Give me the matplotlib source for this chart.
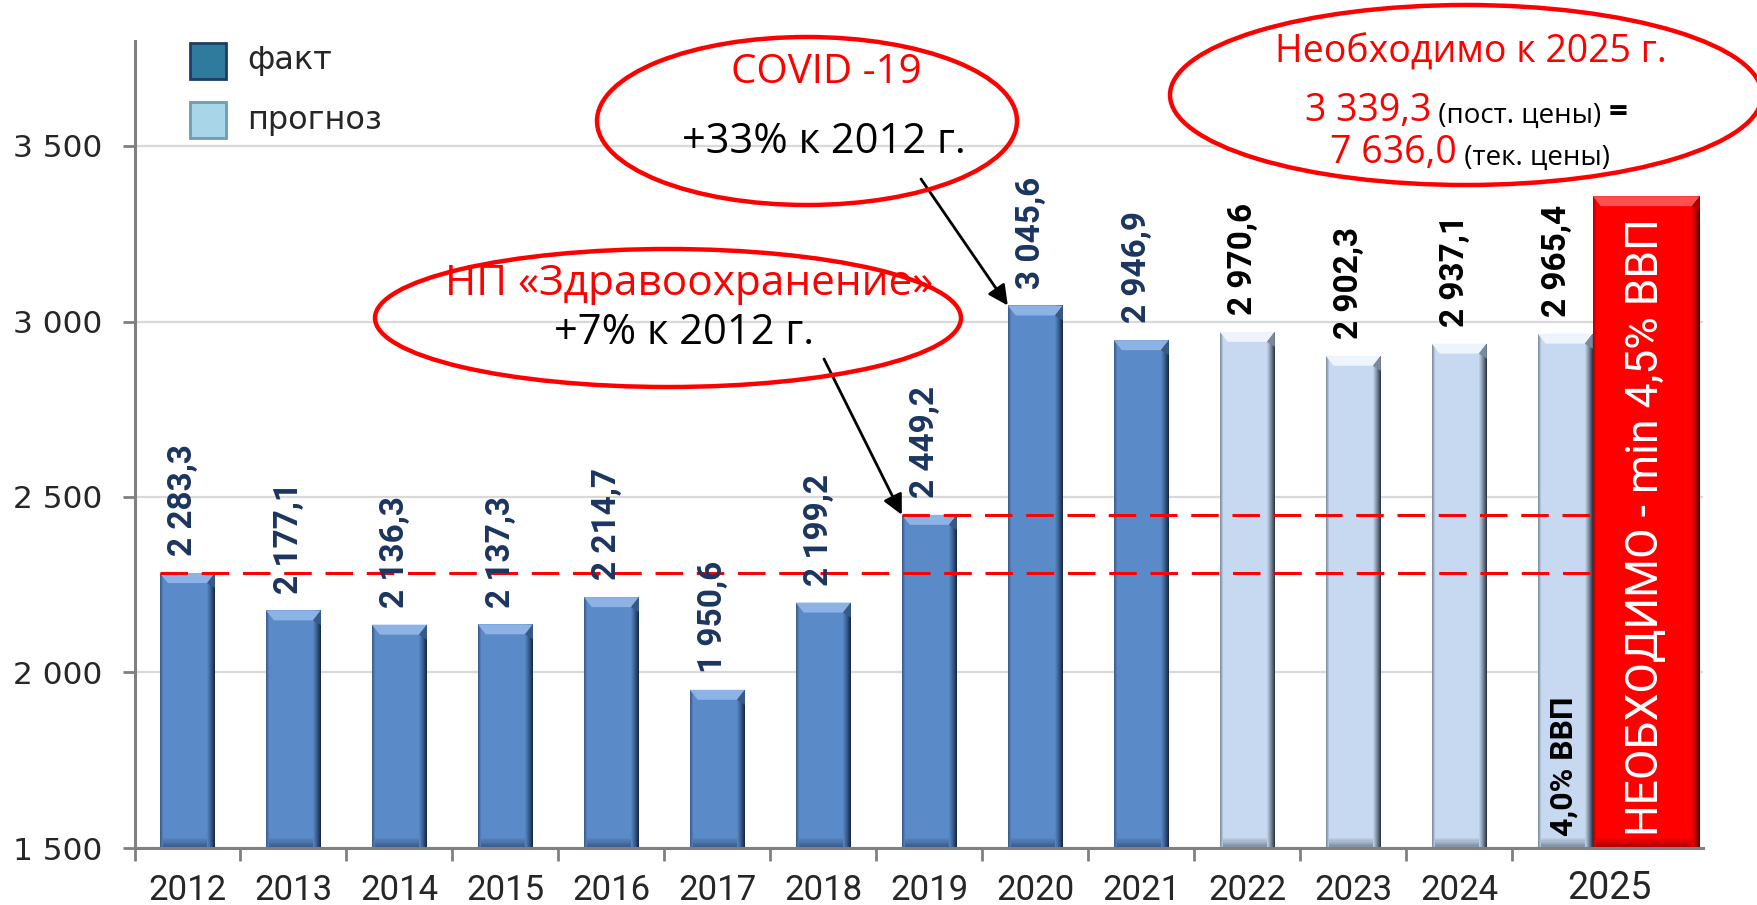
import matplotlib
matplotlib.use("Agg")
import matplotlib.pyplot as plt
from matplotlib.patches import Ellipse, Polygon, Rectangle
from matplotlib.text import Annotation
import matplotlib.colors as mcolors
import numpy as np

# ---------------- data ----------------
fact_years = ["2012", "2013", "2014", "2015", "2016", "2017", "2018", "2019", "2020", "2021"]
fact_values = [2283.3, 2177.1, 2136.3, 2137.3, 2214.7, 1950.6, 2199.2, 2449.2, 3045.6, 2946.9]
forecast_years = ["2022", "2023", "2024", "2025"]
forecast_values = [2970.6, 2902.3, 2937.1, 2965.4]
needed_value = 3357.0          # red bar as drawn
needed_text = "НЕОБХОДИМО - min 4,5% ВВП"
gdp_text = "4,0% ВВП"
y_ticks = [1500, 2000, 2500, 3000, 3500]
y_tick_labels = ["1 500", "2 000", "2 500", "3 000", "3 500"]
legend_labels = ["факт", "прогноз"]

W, H = 1757, 905
fig = plt.figure(figsize=(W / 100, H / 100), dpi=100)
ax = fig.add_axes([134.5 / W, 1 - 848 / H, (1703 - 134.5) / W, (848 - 40.7) / H])
XMIN, XMAX, YMIN, YMAX = -0.5, 14.3, 1500, 3800
ax.set_xlim(XMIN, XMAX)
ax.set_ylim(YMIN, YMAX)

px_x = (1703 - 134.5) / (XMAX - XMIN)      # pixels per x unit
px_y = (848 - 40.7) / (YMAX - YMIN)        # pixels per y unit


def fpx(x, y):
    """figure pixel (from top-left) -> figure fraction"""
    return x / W, 1 - y / H


FACT = "#5A8AC8"
FORE = "#C6D9F0"
RED = "#FF0000"
BW = 0.52

all_years = fact_years + forecast_years
xpos = np.arange(len(all_years), dtype=float)
fact_x = xpos[:len(fact_years)]
fore_x = xpos[len(fact_years):]

fact_bars = ax.bar(fact_x, fact_values, width=BW, color=FACT, zorder=2)
fore_bars = ax.bar(fore_x, forecast_values, width=BW, color=FORE, zorder=2)
red_x = fore_x[-1] + BW / 2 + 1.01 / 2
red_bar = ax.bar([red_x], [needed_value], width=1.01, color=RED, zorder=2)


def mix(c1, c2, t):
    a = np.array(mcolors.to_rgb(c1))
    b = np.array(mcolors.to_rgb(c2))
    return tuple(a * (1 - t) + b * t)


def bevel(rect, face, dark, light):
    x0 = rect.get_x()
    w = rect.get_width()
    top = rect.get_y() + rect.get_height()
    bot = YMIN
    bw = 8 / px_x
    bh = 10 / px_y
    n = 8
    for i in range(n):
        t = (i + 1) / n
        xs = x0 + w - bw + i * bw / n
        ax.add_patch(Rectangle((xs, bot), bw / n, top - bot, color=mix(face, dark, t ** 1.2),
                               lw=0, zorder=2.1))
    for i in range(3):
        xs = x0 + i * (3 / px_x) / 3
        ax.add_patch(Rectangle((xs, bot), (3 / px_x) / 3, top - bot,
                               color=mix(face, dark, 0.45 * (3 - i) / 3), lw=0, zorder=2.1))
    for i in range(n):
        t = (n - i) / n
        ys = bot + i * bh / n
        ax.add_patch(Rectangle((x0, ys), w, bh / n, color=mix(face, dark, 0.5 * t), lw=0, zorder=2.05))
    ax.add_patch(Polygon([(x0, top), (x0 + w, top), (x0 + w - bw, top - bh), (x0 + bw, top - bh)],
                         closed=True, color=light, lw=0, zorder=2.2))
    ax.add_patch(Polygon([(x0 + w - bw, top - bh), (x0 + w, top), (x0 + w, top - bh * 1.5)],
                         closed=True, color=mix(face, dark, 0.5), lw=0, zorder=2.2))


for r in fact_bars:
    bevel(r, FACT, "#162A4A", "#8DB3E6")
for r in fore_bars:
    bevel(r, FORE, "#2E3A48", "#EEF4FB")
for r in red_bar:
    bevel(r, RED, "#5A0000", "#FF5050")


def fmt(v):
    return f"{v:,.1f}".replace(",", " ").replace(".", ",")


LBL = dict(rotation=90, ha="center", va="bottom", fontsize=24, fontweight="bold",
           family="Roboto", zorder=6, textcoords="offset points")
for r, v in zip(fact_bars, fact_values):
    ax.annotate(fmt(v), xy=(r.get_x() + r.get_width() / 2, v), xytext=(-3, 12),
                color="#1B3560", **LBL)
for i, (r, v) in enumerate(zip(fore_bars, forecast_values)):
    dx = -6 if i == len(forecast_values) - 1 else -3
    ax.annotate(fmt(v), xy=(r.get_x() + r.get_width() / 2, v), xytext=(dx, 12),
                color="black", **LBL)

# text in red bar & 2025 bar
rb = red_bar[0]
ax.annotate(needed_text, xy=(rb.get_x() + rb.get_width() / 2, YMIN), xytext=(0, 9),
            textcoords="offset points", rotation=90, ha="center", va="bottom",
            fontsize=32, color="white", family="Roboto", zorder=6)
lb = fore_bars[-1]
ax.annotate(gdp_text, xy=(lb.get_x() + lb.get_width() / 2, YMIN), xytext=(-1, 9),
            textcoords="offset points", rotation=90, ha="center", va="bottom",
            fontsize=23, fontweight="bold", color="black", family="Roboto", zorder=6)

# dashed reference lines
red_left = rb.get_x()
ax.hlines(fact_values[0], fact_bars[0].get_x(), red_left, colors=RED, lw=2.2,
          linestyles=(0, (9, 4.5)), zorder=4)
ax.hlines(fact_values[7], fact_bars[7].get_x(), red_left, colors=RED, lw=2.2,
          linestyles=(0, (9, 4.5)), zorder=4)

# axes styling
for s in ["top", "right"]:
    ax.spines[s].set_visible(False)
for s in ["left", "bottom"]:
    ax.spines[s].set_color("#808080")
    ax.spines[s].set_linewidth(2.2)
ax.set_yticks(y_ticks)
ax.set_yticklabels(y_tick_labels, fontsize=22.5, color="#262626", family="DejaVu Sans")
ax.tick_params(axis="y", length=9, width=2, color="#808080", pad=14)
ax.yaxis.grid(True, color="#D9D9D9", lw=1.6)
ax.set_axisbelow(True)

ax.set_xticks(np.arange(-0.5, 13, 1.0))
ax.set_xticklabels([])
ax.tick_params(axis="x", which="major", length=9, width=2, color="#808080")
ax.set_xticks(xpos[:-1], minor=True)
ax.set_xticklabels(all_years[:-1], minor=True, fontsize=25, color="#262626", family="Roboto")
ax.tick_params(axis="x", which="minor", length=0, pad=19)
# last category label (wider 2025 group), slightly larger
ax.annotate(all_years[-1], xy=(13.42, YMIN), xytext=(0, -29), textcoords="offset points",
            ha="center", va="center", fontsize=27, color="#262626", family="Roboto",
            annotation_clip=False)

# legend (manual)
leg_cols = [("#2E7B9D", "#1E3C66"), ("#A8D6E8", "#6F9CB0")]
for i, (lab, (fc, ec)) in enumerate(zip(legend_labels, leg_cols)):
    y_top = 43 + i * 59
    x0, y0 = fpx(190, y_top + 36)
    fig.add_artist(Rectangle((x0, y0), 36 / W, 36 / H, transform=fig.transFigure,
                             facecolor=fc, edgecolor=ec, lw=2))
    tx, ty = fpx(247, y_top + 18)
    fig.text(tx, ty, lab, fontsize=23, color="#262626", va="center", ha="left",
             family="DejaVu Sans")


# ellipses
def ell(cx, cy, w, h, fill=False):
    c = fpx(cx, cy)
    e = Ellipse(c, w / W, h / H, transform=fig.transFigure, facecolor="white" if fill else "none",
                edgecolor=RED, lw=3.2, zorder=7)
    fig.add_artist(e)


ell(807, 121, 420, 168)
ell(668, 318, 586, 138)
ell(1466, 95, 592, 180, fill=True)

TF = ["Open Sans", "DejaVu Sans"]


def ftxt(x, y, s, **kw):
    fx, fy = fpx(x, y)
    return fig.text(fx, fy, s, ha="center", va="center", family=TF, zorder=8, **kw)


ftxt(826, 73, "COVID -19", fontsize=29, color=RED)
ftxt(824, 142, "+33% к 2012 г.", fontsize=30, color="black")
ftxt(689, 284, "НП «Здравоохранение»", fontsize=30.5, color=RED)
ftxt(684, 333, "+7% к 2012 г.", fontsize=30, color="black")
ftxt(1471, 53, "Необходимо к 2025 г.", fontsize=27, color=RED)

fx, fy = fpx(1305, 121)
t1 = fig.text(fx, fy, "3 339,3", fontsize=27, color=RED, family=TF, ha="left", va="baseline", zorder=8)
a2 = fig.add_artist(Annotation(" (пост. цены) ", xy=(1, 0), xycoords=t1, va="bottom",
                               ha="left", fontsize=20, color="black", family=TF, zorder=8))
fig.add_artist(Annotation("=", xy=(1, 0), xycoords=a2, va="bottom", ha="left",
                          fontsize=24, fontweight="bold", color="black", family=TF, zorder=8))
fx, fy = fpx(1330, 163)
t4 = fig.text(fx, fy, "7 636,0", fontsize=27, color=RED, family=TF, ha="left", va="baseline", zorder=8)
fig.add_artist(Annotation(" (тек. цены)", xy=(1, 0), xycoords=t4, va="bottom",
                          ha="left", fontsize=20, color="black", family=TF, zorder=8))

# arrows
b20 = fact_bars[8]
b19 = fact_bars[7]
AP = dict(arrowstyle="-|>", color="black", lw=2, mutation_scale=30, shrinkA=0, shrinkB=0)
ax.annotate("", xy=(b20.get_x(), fact_values[8]), xytext=fpx(921, 179), textcoords="figure fraction",
            arrowprops=AP, zorder=6)
ax.annotate("", xy=(b19.get_x(), fact_values[7]), xytext=fpx(824, 359), textcoords="figure fraction",
            arrowprops=AP, zorder=6)

fig.savefig("out.png", dpi=100, facecolor="white")
